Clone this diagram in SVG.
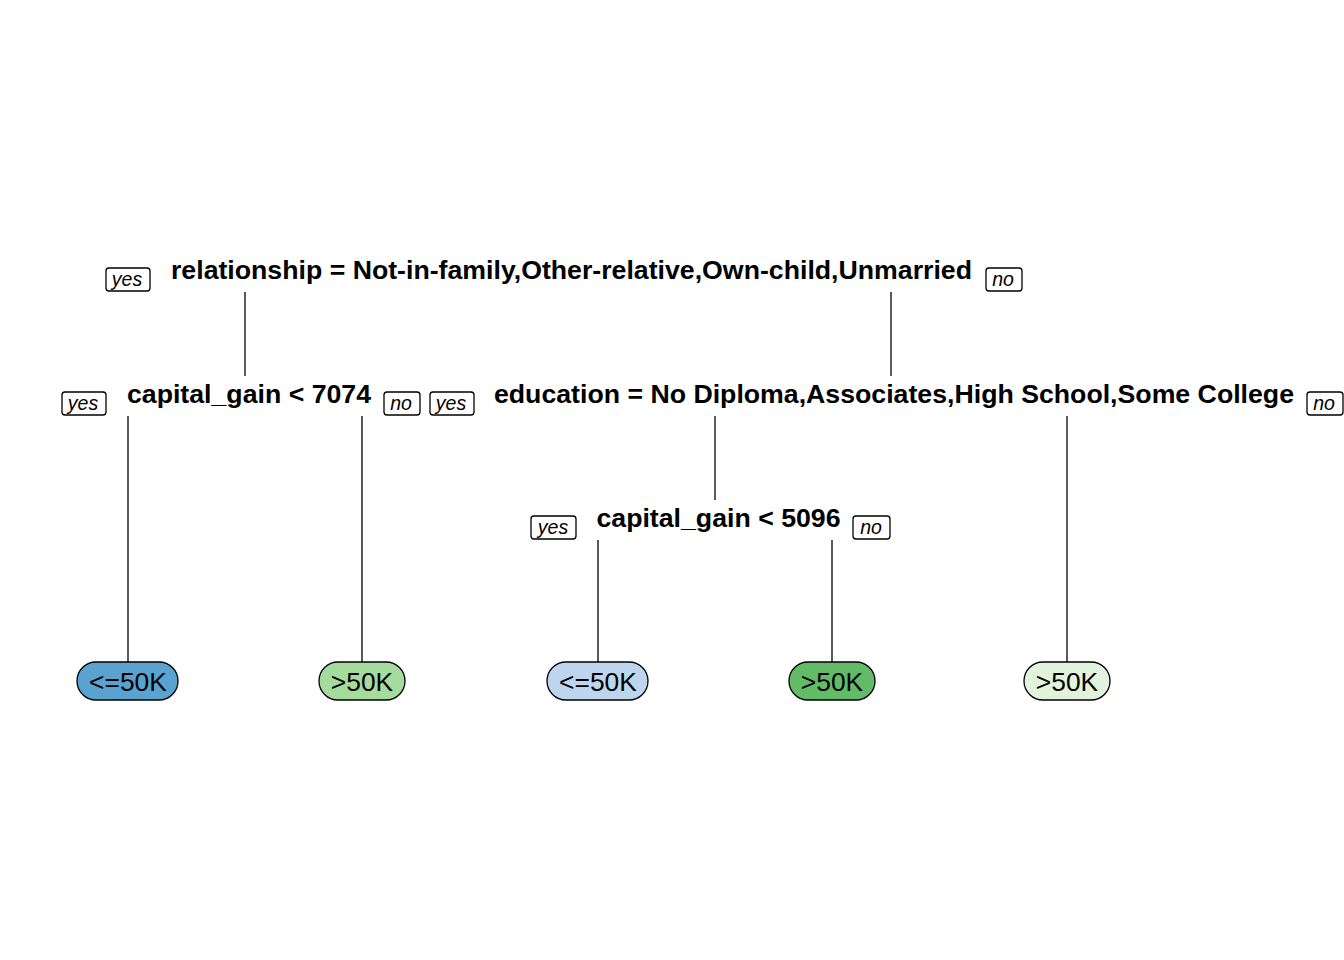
<svg xmlns="http://www.w3.org/2000/svg" width="1344" height="960" viewBox="0 0 1344 960">
<style>
.split{font-family:"Liberation Sans",Arial,sans-serif;font-weight:bold;font-size:26.7px;text-anchor:middle;fill:#000}
.lbl{font-family:"Liberation Sans",Arial,sans-serif;font-style:italic;font-size:19.5px;text-anchor:middle;fill:#000}
.lbox{fill:#fff;stroke:#000;stroke-width:1.3}
.leaf{stroke:#000;stroke-width:1.3}
.leaft{font-family:"Liberation Sans",Arial,sans-serif;font-size:26.4px;text-anchor:middle;fill:#000}
.conn line{stroke:#000;stroke-width:1.3}
</style>
<rect width="1344" height="960" fill="#fff"/>
<g id="connectors" class="conn">
<line x1="245" y1="292" x2="245" y2="376"/>
<line x1="891" y1="292" x2="891" y2="376"/>
<line x1="128" y1="416" x2="128" y2="662"/>
<line x1="362" y1="416" x2="362" y2="662"/>
<line x1="715" y1="416" x2="715" y2="500"/>
<line x1="1067" y1="416" x2="1067" y2="662"/>
<line x1="598" y1="540" x2="598" y2="662"/>
<line x1="832" y1="540" x2="832" y2="662"/>
</g>
<g id="node-root">
<text class="split" x="571.5" y="279">relationship = Not-in-family,Other-relative,Own-child,Unmarried</text>
<rect class="lbox" x="106" y="268" width="44" height="23" rx="3"/>
<text class="lbl" x="127" y="286">yes</text>
<rect class="lbox" x="986" y="268" width="36" height="23" rx="3"/>
<text class="lbl" x="1003" y="286">no</text>
</g>
<g id="node-cg7074">
<text class="split" x="249" y="403">capital_gain &lt; 7074</text>
<rect class="lbox" x="62" y="392" width="44" height="23" rx="3"/>
<text class="lbl" x="83" y="410">yes</text>
<rect class="lbox" x="384" y="392" width="36" height="23" rx="3"/>
<text class="lbl" x="401" y="410">no</text>
</g>
<g id="node-education">
<text class="split" x="894" y="403">education = No Diploma,Associates,High School,Some College</text>
<rect class="lbox" x="430" y="392" width="44" height="23" rx="3"/>
<text class="lbl" x="451" y="410">yes</text>
<rect class="lbox" x="1307" y="392" width="36" height="23" rx="3"/>
<text class="lbl" x="1324" y="410">no</text>
</g>
<g id="node-cg5096">
<text class="split" x="718.5" y="527">capital_gain &lt; 5096</text>
<rect class="lbox" x="531" y="516" width="45" height="23" rx="3"/>
<text class="lbl" x="553" y="534">yes</text>
<rect class="lbox" x="853" y="516" width="37" height="23" rx="3"/>
<text class="lbl" x="871" y="534">no</text>
</g>
<g id="leaf1">
<rect class="leaf" x="77" y="662" width="101" height="38" rx="19" fill="#5AA2CF"/>
<text class="leaft" x="128" y="690.5">&lt;=50K</text>
</g>
<g id="leaf2">
<rect class="leaf" x="319" y="662" width="86" height="38" rx="19" fill="#A5DC9E"/>
<text class="leaft" x="362" y="690.5">&gt;50K</text>
</g>
<g id="leaf3">
<rect class="leaf" x="547" y="662" width="101" height="38" rx="19" fill="#BDD6EE"/>
<text class="leaft" x="598" y="690.5">&lt;=50K</text>
</g>
<g id="leaf4">
<rect class="leaf" x="789" y="662" width="86" height="38" rx="19" fill="#63BB68"/>
<text class="leaft" x="832" y="690.5">&gt;50K</text>
</g>
<g id="leaf5">
<rect class="leaf" x="1024" y="662" width="86" height="38" rx="19" fill="#E1F3DC"/>
<text class="leaft" x="1067" y="690.5">&gt;50K</text>
</g>
</svg>
